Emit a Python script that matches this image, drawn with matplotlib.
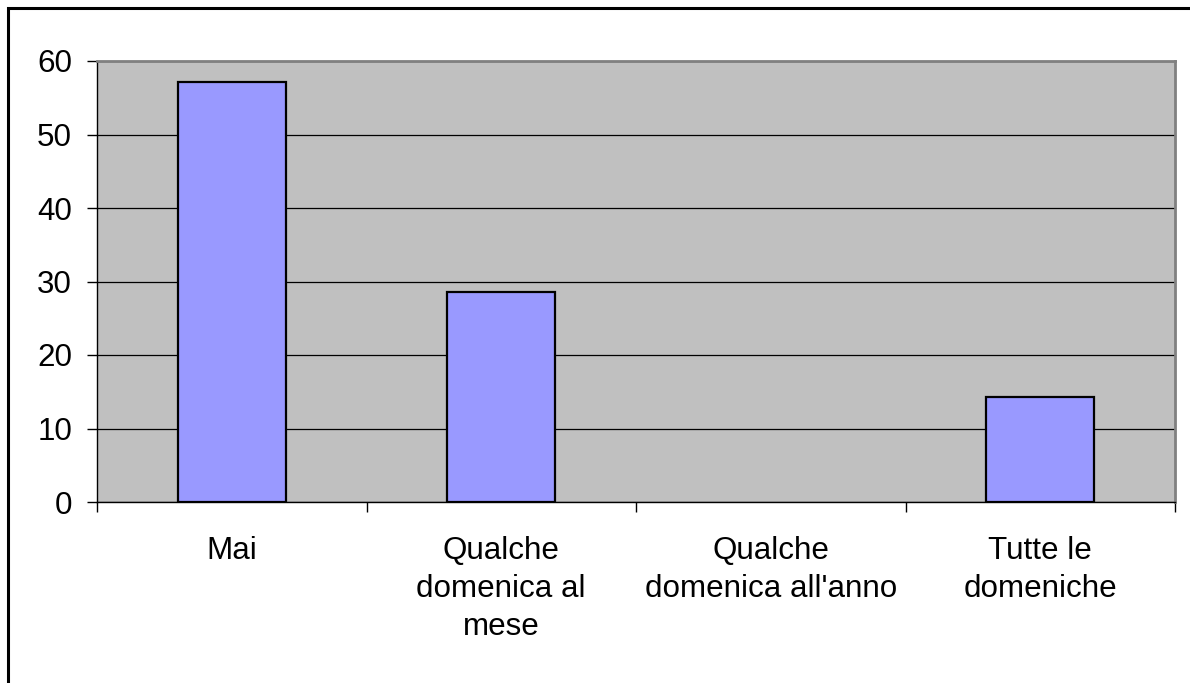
import numpy as np
import matplotlib
matplotlib.use("Agg")
from matplotlib import pyplot as plt
from matplotlib.patches import Rectangle

categories = ["Mai", "Qualche\ndomenica al\nmese", "Qualche\ndomenica all'anno", "Tutte le\ndomeniche"]
values = [57.14, 28.57, 0, 14.29]
yticks = [0, 10, 20, 30, 40, 50, 60]

plt.rcParams['font.family'] = ['Liberation Sans', 'DejaVu Sans']

W, H = 1190, 683
fig = plt.figure(figsize=(W / 100., H / 100.), dpi=100)
fig.patch.set_facecolor('white')

# outer chart frame (runs off the right and bottom edge)
fig.patches.append(Rectangle((8. / W, -0.1), 1.2, 1 - 8.5 / H + 0.1, transform=fig.transFigure,
                             fill=False, edgecolor='black', linewidth=2.2, zorder=0))

ax = fig.add_axes([97. / W, 1 - 502. / H, (1175. - 97.) / W, (502. - 61.) / H])
ax.set_facecolor('#c0c0c0')

x = np.arange(len(categories))
lw = [1.6 if v > 0 else 0 for v in values]
ax.bar(x, values, width=0.4, color='#9999ff', edgecolor='black', linewidth=lw, zorder=3)

ax.set_xlim(-0.5, len(categories) - 0.5)
ax.set_ylim(0, 60)
ax.set_yticks(yticks)
ax.yaxis.grid(True, color='black', linewidth=0.9, zorder=1)
ax.set_axisbelow(True)

ax.set_xticks(np.arange(len(categories) + 1) - 0.5)
ax.set_xticklabels([])
ax.set_xticks(x, minor=True)
ax.set_xticklabels(categories, minor=True, fontsize=22.6, linespacing=1.35, va='top')
ax.tick_params(axis='x', which='minor', length=0, pad=24.5)
ax.tick_params(axis='x', which='major', length=7.5, width=1, color='black', direction='out')
ax.tick_params(axis='y', length=7.5, width=1, labelsize=22.6, pad=10.5, direction='out')

for s in ['top', 'right']:
    ax.spines[s].set_color('#808080')
    ax.spines[s].set_linewidth(2)
for s in ['left', 'bottom']:
    ax.spines[s].set_color('black')
    ax.spines[s].set_linewidth(1)

fig.savefig('out.png', dpi=100)
